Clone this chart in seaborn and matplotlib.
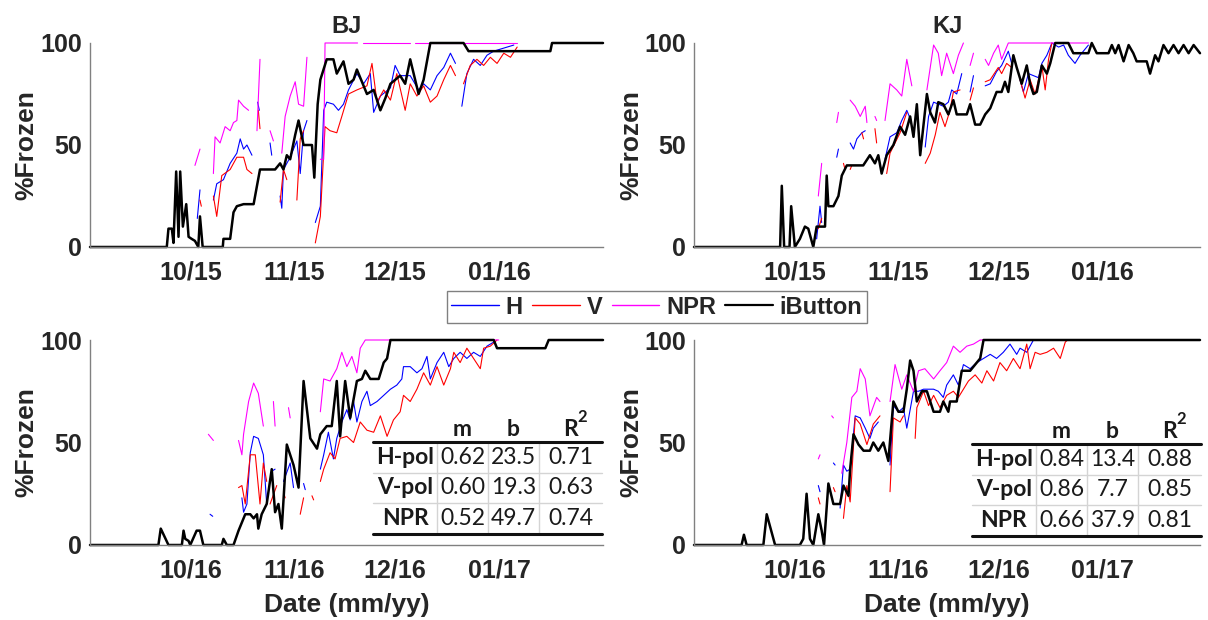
import numpy as np
import pandas as pd
import matplotlib
matplotlib.use("Agg")
import matplotlib.pyplot as plt
import matplotlib.dates as mdates
from matplotlib.lines import Line2D
import seaborn as sns

# (days since 1 Sep, % frozen) ; None marks a gap in the record
bj15_h = [(32.0, 14), (32.8, 28), None,
          (36.8, 23), (37.8, 31), (39.8, 33), (41.8, 41), (43.8, 46), (44.8, 53), (45.8, 48), (46.8, 50), (48.3, 45), None,
          (50.0, 71), (50.5, 67), None, (53.7, 51), (54.2, 45), None,
          (56.7, 25), (57.2, 19), (57.7, 38), (59.7, 44), (61.7, 52), (62.7, 36), (63.7, 57), (64.7, 62), None,
          (67.2, 12), (68.7, 20), (69.7, 67), (70.6, 71), (72.6, 70), (74.1, 67), (75.6, 70), (77.1, 77), (79.6, 85),
          (81.6, 80), (83.6, 85), (84.6, 66), (86.6, 74), (89.6, 78), (91.0, 89), (92.5, 84), (95.5, 84), (98.0, 77),
          (99.5, 80), (101.5, 77), (103.5, 84), (105.5, 88), (107.5, 95), (109.0, 90), None,
          (110.9, 69), (112.4, 85), (114.4, 92), (116.4, 89), (118.4, 94), (120.4, 96), (122.4, 97), (124.4, 98), (126.4, 99)]
bj15_v = [(32.8, 23), (33.2, 20), None,
          (36.8, 25), (37.8, 15), (39.3, 35), (41.8, 38), (43.8, 44), (45.8, 44), (46.8, 38), (48.3, 36), None,
          (50.2, 67), (50.7, 58), None, (56.7, 22), (57.7, 38), (58.7, 33), None,
          (61.7, 23), (62.7, 53), (63.7, 57), None,
          (67.2, 2), (68.7, 15), (70.1, 59), (71.6, 57), (73.6, 56), (75.1, 64), (77.1, 75), (79.6, 77), (82.6, 79),
          (84.1, 90), (85.6, 71), (87.6, 77), (89.6, 72), (91.5, 85), (94.0, 67), (95.5, 80), (97.5, 74), (99.5, 79),
          (101.5, 71), (103.5, 74), (105.5, 82), (107.5, 89), (109.0, 84), None,
          (111.4, 80), (113.4, 89), (115.4, 92), (117.4, 89), (119.4, 93), (121.4, 90), (123.4, 95), (125.4, 93), (127.4, 98)]
bj15_npr = [(31.3, 40), (32.8, 48), None,
            (36.8, 36), (37.3, 54), (38.8, 51), (40.3, 59), (41.8, 57), (42.8, 61), (43.8, 62), (44.3, 72), (45.8, 69), (47.3, 67), None,
            (49.8, 57), (50.7, 92), None, (53.7, 57), (54.7, 52), None,
            (57.2, 46), (58.2, 64), (59.7, 74), (61.2, 81), (62.2, 70), (63.7, 69), (64.7, 93), None,
            (68.7, 43), (69.7, 43), (70.1, 100), (79.8, 100), None, (81.5, 100), (95.3, 100), None, (97.0, 100), (127.4, 100)]
bj15_ib = [(0, 0), (22.9, 0), (23.4, 9), (24.4, 9), (24.9, 2), (25.7, 37), (26.4, 5), (26.9, 37), (27.7, 10), (28.7, 21),
           (29.4, 5), (30.3, 4), (31.3, 3), (32.3, 0), (32.8, 15), (33.6, 0), (39.6, 0), (39.8, 4), (41.8, 4), (42.8, 17),
           (43.8, 20), (45.8, 21), (48.8, 21), (49.8, 30), (50.7, 38), (55.2, 38), (56.7, 41), (57.7, 38), (58.7, 45),
           (59.7, 43), (61.2, 55), (62.2, 62), (63.7, 50), (66.2, 50), (66.9, 34), (67.9, 70), (68.7, 82), (70.6, 92),
           (72.6, 92), (73.6, 85), (75.6, 91), (77.1, 80), (78.6, 82), (79.6, 87), (80.6, 83), (82.6, 75), (84.6, 77),
           (86.6, 67), (88.1, 73), (89.6, 80), (92.5, 84), (94.0, 80), (95.5, 92), (98.0, 75), (99.5, 82), (101.5, 100),
           (111.4, 100), (112.9, 96), (137.3, 96), (137.8, 100), (153, 100)]

kj15_h = [(36.6, 4), (37.6, 20), (38.1, 12), None, (42.6, 44), (43.1, 48), None,
          (46.6, 51), (47.6, 48), (48.6, 53), (50.1, 56), (51.1, 57), None,
          (57.0, 43), (58.5, 54), (60.5, 56), (62.0, 62), (63.5, 67), (64.5, 63), None,
          (69.0, 49), (70.0, 64), (71.5, 71), (73.0, 70), (74.4, 69), (75.9, 71), (76.9, 77), (78.4, 75), (79.9, 85), None,
          (82.4, 76), (83.4, 84), None,
          (86.9, 79), (88.4, 80), (90.3, 86), (91.8, 89), (93.8, 96), (94.8, 90), None,
          (97.3, 82), (98.3, 76), (99.8, 85), (101.3, 84), (102.8, 83), (103.8, 90), (105.3, 94), (106.8, 100),
          (108.8, 98), (110.3, 99), (111.7, 94), (113.7, 90), (115.2, 94), (116.7, 97), (117.7, 99)]
kj15_v = [(37.1, 9), (38.1, 14), None, (44.6, 41), (45.1, 38), None, (46.6, 38), (47.1, 40), None,
          (50.1, 56), (50.6, 53), None, (54.0, 58), (54.5, 51), None,
          (57.5, 36), (58.5, 46), (61.5, 56), (63.5, 66), None,
          (69.0, 41), (70.5, 46), (72.0, 55), (73.4, 66), (74.9, 59), (76.4, 67), (77.4, 76), (79.4, 77), None,
          (82.4, 72), (83.4, 78), None,
          (86.9, 81), (88.4, 82), (90.8, 88), (91.8, 85), (93.3, 90), (94.8, 88), None,
          (97.3, 82), (98.8, 73), (100.3, 82), (101.8, 75), (103.8, 89), (104.8, 77), (105.8, 92), (106.8, 100)]
kj15_npr = [(37.1, 25), (38.1, 41), None, (42.6, 61), (43.1, 66), None,
            (46.6, 72), (48.1, 69), (49.6, 64), (51.1, 69), (51.6, 61), None, (54.0, 64), (54.5, 62), None,
            (57.0, 62), (58.5, 80), (60.5, 77), (62.0, 74), (63.5, 92), (65.0, 79), None,
            (69.5, 77), (71.5, 99), (72.9, 95), (73.9, 84), (75.4, 95), (77.4, 85), (78.9, 94), (80.4, 100), None,
            (82.4, 89), (83.4, 95), None,
            (86.9, 92), (87.9, 89), (89.4, 95), (90.8, 99), (91.8, 92), (93.8, 100), (117.7, 100)]
kj15_ib = [(0, 0), (25.7, 0), (26.2, 30), (26.9, 0), (28.5, 0), (29.0, 20), (30.1, 0), (31.6, 4), (33.1, 10), (34.1, 9),
           (35.6, 0), (36.6, 10), (39.1, 10), (39.6, 35), (40.1, 20), (41.6, 20), (43.1, 25), (44.1, 35), (45.6, 40),
           (50.5, 40), (52.5, 45), (54.0, 41), (55.0, 45), (56.0, 36), (57.5, 45), (59.5, 50), (61.5, 59), (63.0, 55),
           (64.5, 64), (65.5, 54), (66.5, 70), (67.5, 45), (69.5, 75), (70.5, 66), (71.9, 61), (72.9, 71), (74.4, 70),
           (75.9, 65), (77.4, 72), (78.4, 65), (81.4, 65), (82.4, 70), (83.9, 60), (85.4, 60), (86.9, 65), (88.4, 68),
           (90.3, 76), (91.8, 76), (92.8, 81), (93.8, 76), (95.3, 94), (96.3, 88), (97.8, 80), (99.3, 89), (100.3, 80),
           (101.3, 75), (102.3, 76), (103.8, 89), (105.3, 85), (106.3, 90), (107.8, 100), (111.7, 100), (113.2, 95),
           (117.7, 95), (118.7, 100), (120.2, 95), (123.7, 95), (124.7, 99), (125.7, 95), (126.7, 99), (128.2, 91),
           (129.7, 99), (131.1, 95), (132.1, 91), (135.1, 91), (136.1, 85), (137.6, 94), (138.6, 91), (140.1, 99),
           (141.6, 95), (143.1, 99), (144.6, 95), (146.1, 99), (147.6, 95), (149.1, 99), (151.0, 95)]

bj16_h = [(35.8, 15), (36.6, 14), None,
          (45.3, 23), (45.8, 16), (46.8, 20), (47.8, 45), (48.8, 53), (50.2, 52), (51.7, 44), (52.7, 20), None,
          (54.2, 36), (55.2, 37), None, (57.7, 31), (59.7, 40), (60.7, 28), None, (63.7, 30), (64.2, 27), None,
          (68.7, 37), (69.7, 44), (71.1, 55), (72.6, 42), (73.6, 52), (75.1, 60), (76.6, 66), (77.6, 61), (78.6, 70),
          (79.6, 60), (81.1, 70), (82.6, 75), (83.6, 68), (85.6, 70), (87.6, 73), (89.6, 76), (91.5, 78), (93.0, 81),
          (93.5, 87), (95.5, 87), (97.5, 84), (99.0, 86), (100.5, 92), (101.5, 81), (103.5, 89), (105.5, 94), (107.0, 87),
          (108.5, 91), (110.4, 94), (112.4, 91), (114.4, 94), (116.4, 92), (118.4, 97), (120.4, 99)]
bj16_v = [(44.3, 28), (45.3, 29), (46.3, 20), (47.8, 44), (49.3, 44), (50.7, 20), (51.7, 40), (52.7, 31), None,
          (53.7, 20), (55.7, 29), None, (57.7, 26), (58.2, 23), None, (62.7, 15), (63.7, 23), None,
          (66.2, 24), (66.7, 22), None,
          (68.7, 31), (69.7, 37), (71.6, 45), (73.1, 42), (74.6, 52), (76.6, 53), (78.6, 50), (80.6, 60), (82.6, 56),
          (84.6, 55), (86.6, 63), (88.6, 53), (90.5, 61), (92.5, 65), (93.5, 73), (95.5, 70), (97.5, 76), (99.5, 84),
          (101.5, 78), (103.5, 87), (105.5, 78), (107.5, 86), (108.5, 94), (110.4, 89), (112.4, 96), (114.4, 91),
          (116.4, 86), (117.4, 96), (119.4, 97), (121.4, 100)]
bj16_npr = [(35.3, 54), (36.8, 51), None,
            (44.3, 51), (45.3, 44), (45.8, 54), (47.3, 70), (48.8, 79), (50.2, 74), (51.7, 58), None,
            (54.7, 70), (55.2, 58), None, (59.2, 67), (59.7, 62), None,
            (68.7, 65), (69.7, 81), (71.6, 80), (73.6, 86), (75.1, 94), (76.6, 87), (78.1, 92), (79.6, 84), (80.6, 96),
            (82.1, 100), (121.9, 100)]
bj16_ib = [(0, 0), (20.4, 0), (21.1, 8), (23.4, 0), (27.4, 0), (27.9, 7), (28.4, 3), (29.4, 2), (29.9, 0), (31.8, 7),
           (32.8, 7), (33.8, 0), (39.3, 0), (39.8, 3), (40.8, 0), (42.8, 0), (44.3, 7), (46.3, 15), (47.8, 15), (48.8, 13),
           (49.8, 15), (50.2, 8), (51.2, 15), (52.7, 20), (54.2, 37), (55.2, 16), (56.2, 20), (57.2, 8), (58.7, 49),
           (60.7, 39), (62.2, 28), (63.7, 80), (65.7, 52), (67.7, 47), (68.7, 54), (70.6, 58), (72.1, 58), (73.6, 80),
           (74.6, 53), (76.1, 80), (77.6, 62), (79.6, 80), (81.1, 81), (82.1, 85), (83.6, 81), (86.1, 81), (87.6, 89),
           (88.6, 91), (89.6, 100), (120.4, 100), (121.4, 96), (135.8, 96), (136.8, 100), (153, 100)]

kj16_h = [(37.1, 29), (37.6, 26), None, (41.6, 40), (42.1, 39), None,
          (43.6, 18), (44.6, 39), (45.6, 36), (46.6, 37), (48.1, 63), (49.6, 62), (51.1, 57), (52.5, 52), (53.5, 57), (55.0, 60), None,
          (58.5, 39), (59.5, 68), (61.0, 65), (62.5, 67), (63.5, 57), (65.5, 75), (67.0, 75), (68.5, 76), (71.5, 76),
          (72.9, 75), (74.4, 72), (75.4, 78), (77.4, 83), (78.9, 78), (80.4, 88), (82.4, 86), (84.4, 89), (86.4, 91),
          (88.4, 93), (90.3, 91), (92.3, 94), (94.3, 98), (96.3, 93), (97.3, 96), (99.3, 94), (101.3, 100)]
kj16_v = [(37.1, 23), (37.6, 20), None, (41.6, 28), (42.1, 26), None,
          (44.6, 13), (45.6, 29), (46.6, 21), (48.1, 62), (49.6, 59), (51.6, 49), (53.5, 59), (55.5, 63), None,
          (58.5, 26), (59.5, 62), (61.5, 60), (62.5, 63), None,
          (66.0, 52), (66.5, 67), (68.5, 75), (70.0, 68), (71.5, 73), (73.4, 67), (75.4, 73), (77.4, 75), (78.9, 72),
          (80.4, 76), (81.9, 80), (83.9, 83), (85.9, 79), (87.4, 85), (89.4, 80), (91.3, 89), (93.3, 85), (95.3, 91),
          (97.3, 86), (99.3, 98), (100.3, 86), (101.8, 94), (103.3, 93), (105.3, 94), (107.3, 96), (109.3, 91),
          (110.8, 99), (111.5, 100)]
kj16_npr = [(37.1, 42), (37.6, 44), None, (41.1, 63), (41.6, 62), None,
            (44.1, 35), (45.6, 50), (47.1, 72), (48.6, 75), (49.6, 86), (51.1, 81), (52.5, 63), (54.5, 72), (55.5, 70), None,
            (58.5, 70), (60.0, 88), (62.0, 76), (63.5, 83), (65.5, 75), (67.0, 85), (68.9, 86), (71.5, 81), (73.4, 85),
            (75.4, 89), (77.4, 97), (79.4, 94), (81.4, 97), (83.4, 98), (85.4, 100), (86.4, 100)]
kj16_ib = [(0, 0), (14.2, 0), (14.9, 5), (15.7, 0), (20.7, 0), (21.7, 15), (24.2, 0), (31.6, 0), (32.6, 3), (33.6, 25),
           (34.6, 3), (35.6, 0), (37.1, 15), (38.1, 7), (38.8, 0), (40.1, 30), (41.6, 20), (43.6, 20), (44.6, 29),
           (46.1, 24), (46.6, 37), (47.6, 54), (49.1, 49), (50.6, 46), (52.5, 46), (53.5, 50), (55.0, 46), (56.5, 50),
           (58.0, 41), (59.5, 70), (61.0, 65), (62.5, 65), (63.5, 76), (64.5, 90), (65.5, 85), (66.5, 70), (68.0, 75),
           (69.5, 75), (71.5, 65), (73.4, 65), (74.4, 70), (75.9, 65), (76.4, 70), (78.4, 70), (79.9, 85), (82.4, 85),
           (84.4, 89), (85.4, 91), (86.4, 100), (151, 100)]

series_names = ["H", "V", "NPR", "iButton"]
series_colors = ["#0000ff", "#ff0000", "#ff00ff", "#000000"]
series_widths = [0.8, 0.8, 0.8, 1.8]

fit_rows = ["H-pol", "V-pol", "NPR"]
bj_fit = [["0.62", "23.5", "0.71"], ["0.60", "19.3", "0.63"], ["0.52", "49.7", "0.74"]]
kj_fit = [["0.84", "13.4", "0.88"], ["0.86", "7.7", "0.85"], ["0.66", "37.9", "0.81"]]


def to_frame(pairs, start):
    rows = []
    seg = 0
    for p in pairs:
        if p is None:
            seg += 1
            continue
        rows.append((start + pd.Timedelta(days=p[0]), p[1], seg))
    return pd.DataFrame(rows, columns=["date", "frozen", "seg"])


sns.set_style("white")
plt.rcParams["font.family"] = ["Liberation Sans", "DejaVu Sans"]
plt.rcParams["font.weight"] = "bold"

W, H = 1208, 620
fig = plt.figure(figsize=(W / 100, H / 100), dpi=100)

panels = [
    ("BJ", "2015-09-01", 153, [bj15_h, bj15_v, bj15_npr, bj15_ib], [90, 43, 513, 204], False),
    ("KJ", "2015-09-01", 151, [kj15_h, kj15_v, kj15_npr, kj15_ib], [694, 43, 506, 204], False),
    ("", "2016-09-01", 153, [bj16_h, bj16_v, bj16_npr, bj16_ib], [90, 340, 513, 205], True),
    ("", "2016-09-01", 151, [kj16_h, kj16_v, kj16_npr, kj16_ib], [694, 340, 506, 205], True),
]

for title, start, ndays, data, box, bottom in panels:
    x0, y0, w, h = box
    ax = fig.add_axes([x0 / W, 1 - (y0 + h) / H, w / W, h / H])
    start = pd.Timestamp(start)
    for pairs, col, lw in zip(data, series_colors, series_widths):
        df = to_frame(pairs, start)
        sns.lineplot(data=df, x="date", y="frozen", units="seg", estimator=None,
                     color=col, lw=lw, ax=ax, legend=False, clip_on=False)
    ax.set_xlim(start, start + pd.Timedelta(days=ndays))
    ax.set_ylim(0, 100)
    ax.set_yticks([0, 50, 100])
    ax.xaxis.set_major_locator(mdates.MonthLocator(bymonth=[10, 11, 12, 1]))
    ax.xaxis.set_major_formatter(mdates.DateFormatter("%m/%y"))
    ax.tick_params(direction="in", length=4, width=1, colors="#808080",
                   labelcolor="#262626", labelsize=18)
    ax.tick_params(axis="x", pad=10)
    ax.tick_params(axis="y", pad=6)
    sns.despine(ax=ax)
    for s in ["left", "bottom"]:
        ax.spines[s].set_color("#808080")
        ax.spines[s].set_linewidth(1)
    ax.set_ylabel("%Frozen", fontsize=19, fontweight="bold", color="#262626")
    ax.yaxis.set_label_coords(-0.1, 0.5)
    if bottom:
        ax.set_xlabel("Date (mm/yy)", fontsize=19, fontweight="bold", color="#262626")
        ax.xaxis.set_label_coords(0.5, -0.235)
    else:
        ax.set_xlabel("")
    if title:
        ax.set_title(title, fontsize=17, fontweight="bold", pad=7)


def draw_table(left, top, vals):
    edges = [0, 64, 115, 166, 229]
    rowh = 30.5
    fx = lambda x: x / W
    fy = lambda y: 1 - y / H
    hy = top - 13
    for j, c in enumerate(["m", "b"]):
        xc = left + (edges[j + 1] + edges[j + 2]) / 2
        fig.text(fx(xc), fy(hy), c, ha="center", va="center", fontsize=16.5,
                 family="Lato", weight="bold", color="#1a1a1a")
    xr = left + (edges[3] + edges[4]) / 2
    fig.text(fx(xr), fy(hy), "R", ha="center", va="center", fontsize=16.5,
             family="Lato", weight="bold", color="#1a1a1a")
    fig.text(fx(xr + 12), fy(hy - 12), "2", ha="center", va="center", fontsize=12,
             family="Lato", weight="bold", color="#1a1a1a")
    for i, (name, row) in enumerate(zip(fit_rows, vals)):
        yc = top + rowh * (i + 0.5)
        fig.text(fx(left + edges[1] / 2), fy(yc), name, ha="center", va="center",
                 fontsize=16.5, family="Lato", weight="bold", color="#1a1a1a")
        for j, v in enumerate(row):
            xc = left + (edges[j + 1] + edges[j + 2]) / 2
            fig.text(fx(xc), fy(yc), v, ha="center", va="center", fontsize=16.5,
                     family="Lato", weight="normal", color="#1a1a1a")
    for i in [1, 2]:
        y = top + rowh * i
        fig.add_artist(Line2D([fx(left), fx(left + edges[-1])], [fy(y), fy(y)],
                              color="#d4d4d4", lw=1, transform=fig.transFigure))
    for e in edges[1:-1]:
        fig.add_artist(Line2D([fx(left + e), fx(left + e)], [fy(top), fy(top + 3 * rowh)],
                              color="#d4d4d4", lw=1, transform=fig.transFigure))
    for y in [top, top + 3 * rowh]:
        fig.add_artist(Line2D([fx(left), fx(left + edges[-1])], [fy(y), fy(y)],
                              color="#111111", lw=2.2, transform=fig.transFigure))


draw_table(373, 442, bj_fit)
draw_table(972, 444, kj_fit)

handles = [Line2D([], [], color=c, lw=lw) for c, lw in zip(series_colors, [1, 1, 1, 1.6])]
leg = fig.legend(handles, series_names, loc="center", bbox_to_anchor=(657 / W, 1 - 307 / H),
                 ncol=4, frameon=True, fancybox=False, fontsize=17, handlelength=2.0,
                 handletextpad=0.3, columnspacing=0.4, borderpad=0.2, borderaxespad=0)
leg.get_frame().set_edgecolor("#606060")
leg.get_frame().set_linewidth(1)

fig.savefig("out.png", dpi=100)
